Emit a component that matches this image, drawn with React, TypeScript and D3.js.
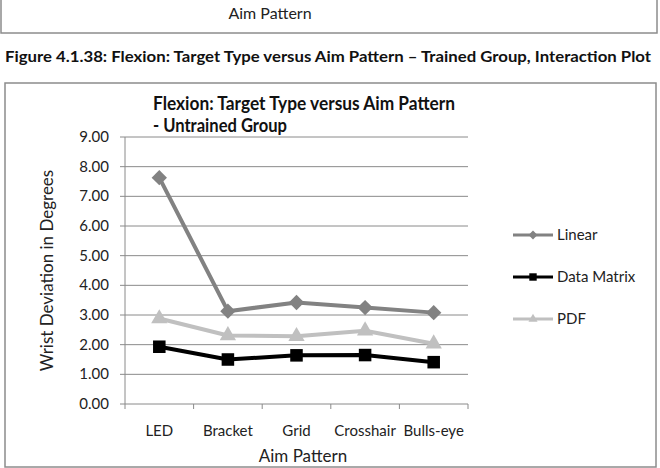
import React from "react";
import * as d3 from "d3";

const categories = ["LED", "Bracket", "Grid", "Crosshair", "Bulls-eye"];
const linear = [7.63, 3.13, 3.42, 3.25, 3.08];
const dataMatrix = [1.93, 1.5, 1.64, 1.65, 1.41];
const pdf = [2.88, 2.31, 2.28, 2.47, 2.03];
const yTicks = [0, 1, 2, 3, 4, 5, 6, 7, 8, 9];

const seriesList = [
  { name: "Linear", values: linear, color: "#828282", marker: "diamond" },
  { name: "Data Matrix", values: dataMatrix, color: "#000000", marker: "square" },
  { name: "PDF", values: pdf, color: "#c0c0c0", marker: "triangle" },
];

const font = "Lato, 'Open Sans', sans-serif";

const markerPath = (type: string, size: number) => {
  const sym =
    type === "diamond" ? d3.symbolDiamond2 : type === "square" ? d3.symbolSquare2 : d3.symbolTriangle2;
  return d3.symbol().type(sym).size(size)();
};

export default function App() {
  const width = 660;
  const height = 468;

  const x = d3.scaleBand().domain(categories).range([125, 468]);
  const y = d3.scaleLinear().domain([0, 9]).range([404, 137]);

  const line = d3
    .line<number>()
    .x((_, i) => (x(categories[i]) as number) + x.bandwidth() / 2)
    .y((d) => y(d));

  const tickXs = categories.map((c) => x(c) as number).concat([x.range()[1]]);

  return (
    <svg
      width={width}
      height={height}
      style={{ position: "absolute", left: 0, top: 0, background: "#fff" }}
      fontFamily={font}
    >
      {/* previous figure remnant */}
      <rect x={1} y={-10} width={656} height={43} fill="none" stroke="#8c8c8c" strokeWidth={1.5} />
      <text x={270} y={19} textAnchor="middle" fontSize={16} fill="#222">
        Aim Pattern
      </text>

      <text x={5} y={62} fontSize={15} fontWeight="bold" fill="#111" textLength={646} lengthAdjust="spacingAndGlyphs">
        Figure 4.1.38: Flexion: Target Type versus Aim Pattern – Trained Group, Interaction Plot
      </text>

      {/* chart box */}
      <rect x={5} y={83} width={651} height={384} fill="#fff" stroke="#8c8c8c" strokeWidth={1.5} />

      <text fontSize={19} fontWeight="bold" fill="#111">
        <tspan x={153} y={110} textLength={302} lengthAdjust="spacingAndGlyphs">
          Flexion: Target Type versus Aim Pattern
        </tspan>
        <tspan x={153} y={132} textLength={134} lengthAdjust="spacingAndGlyphs">
          - Untrained Group
        </tspan>
      </text>

      {/* grid */}
      {yTicks.map((t) => (
        <g key={t}>
          <line x1={120} x2={468} y1={y(t)} y2={y(t)} stroke="#8a8a8a" strokeWidth={1} />
          <text x={109} y={y(t) + 5} textAnchor="end" fontSize={15} fill="#222">
            {t.toFixed(2)}
          </text>
        </g>
      ))}
      <line x1={125} x2={125} y1={y(9)} y2={y(0)} stroke="#8a8a8a" strokeWidth={1} />
      {tickXs.map((tx, i) => (
        <line key={i} x1={tx} x2={tx} y1={y(0)} y2={y(0) + 5} stroke="#8a8a8a" strokeWidth={1} />
      ))}
      {categories.map((c) => (
        <text key={c} x={(x(c) as number) + x.bandwidth() / 2} y={436} textAnchor="middle" fontSize={15} fill="#222">
          {c}
        </text>
      ))}

      <text x={303} y={462} textAnchor="middle" fontSize={17} fill="#222">
        Aim Pattern
      </text>
      <text
        transform={`translate(53, ${(y(0) + y(9)) / 2}) rotate(-90)`}
        textAnchor="middle"
        fontSize={17}
        fill="#222"
      >
        Wrist Deviation in Degrees
      </text>

      {/* series */}
      {seriesList.map((s) => (
        <g key={s.name}>
          <path d={line(s.values) as string} fill="none" stroke={s.color} strokeWidth={4} strokeLinejoin="round" />
          {s.values.map((v, i) => (
            <path
              key={i}
              d={markerPath(s.marker, s.marker === "diamond" ? 150 : s.marker === "square" ? 200 : 190) as string}
              transform={`translate(${(x(categories[i]) as number) + x.bandwidth() / 2}, ${y(v)})`}
              fill={s.color}
            />
          ))}
        </g>
      ))}

      {/* legend */}
      {seriesList.map((s, i) => {
        const ly = 235 + i * 42;
        return (
          <g key={s.name}>
            <line x1={513} x2={553} y1={ly} y2={ly} stroke={s.color} strokeWidth={3} />
            <path
              d={markerPath(s.marker, s.marker === "diamond" ? 50 : s.marker === "square" ? 70 : 60) as string}
              transform={`translate(533, ${ly})`}
              fill={s.color}
            />
            <text x={557} y={ly + 5} fontSize={15} fill="#222">
              {s.name}
            </text>
          </g>
        );
      })}
    </svg>
  );
}
